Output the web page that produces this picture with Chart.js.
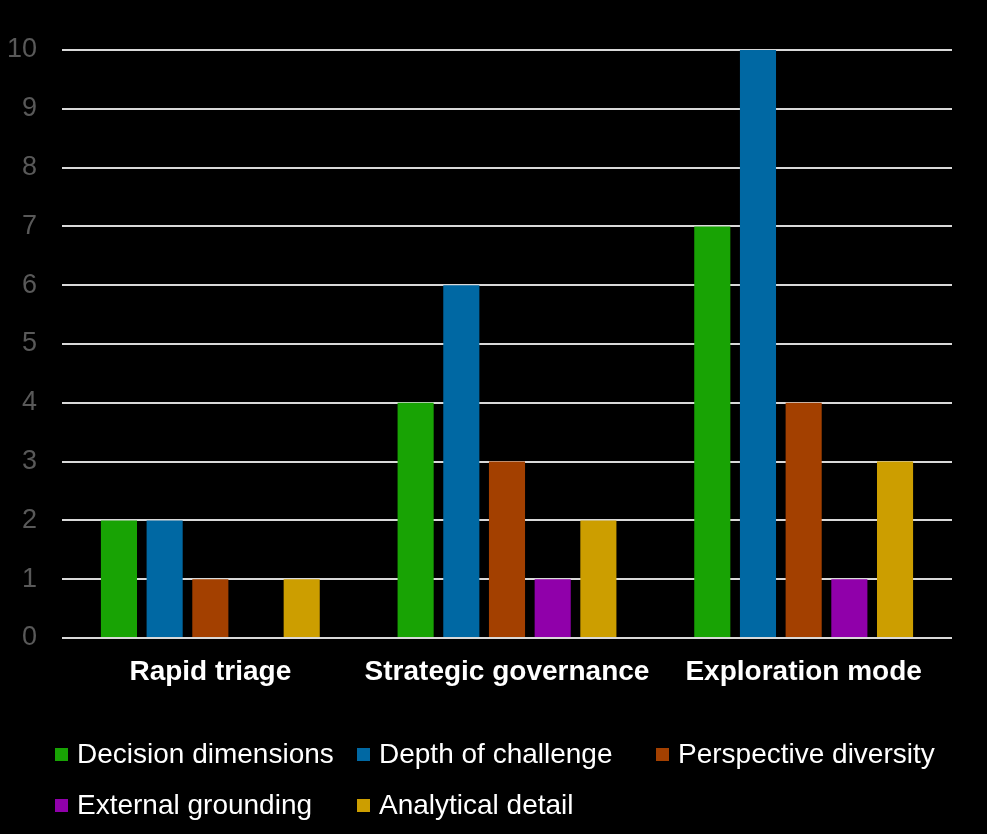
<!DOCTYPE html>
<html>
<head>
<meta charset="utf-8">
<script src="https://cdn.jsdelivr.net/npm/chart.js@4/dist/chart.umd.min.js"></script>
<style>
  html, body { margin: 0; padding: 0; background: #000; }
  #wrap { position: relative; width: 987px; height: 834px; background: #000; }
  #c { position: absolute; left: 0; top: 0; }
  .lg { position: absolute; font-family: "Liberation Sans", Arial, sans-serif; font-size: 28px; color: #fff; white-space: nowrap; line-height: 32px; }
  .lg i { position: absolute; left: 0; top: 10px; width: 13px; height: 13px; }
  .lg span { position: absolute; left: 22px; top: 0; }
</style>
</head>
<body>
<div id="wrap">
  <canvas id="c" width="987" height="834"></canvas>
  <div id="legend"></div>
</div>
<script>
const categories = ["Rapid triage", "Strategic governance", "Exploration mode"];
const seriesNames = ["Decision dimensions", "Depth of challenge", "Perspective diversity", "External grounding", "Analytical detail"];
const decisionDimensions = [2, 4, 7];
const depthOfChallenge = [2, 6, 10];
const perspectiveDiversity = [1, 3, 4];
const externalGrounding = [0, 1, 1];
const analyticalDetail = [1, 2, 3];
const yTicks = [0, 1, 2, 3, 4, 5, 6, 7, 8, 9, 10];
const colors = ["#18a304", "#0068a3", "#a34000", "#9000aa", "#cc9e00"];

const seriesValues = [decisionDimensions, depthOfChallenge, perspectiveDiversity, externalGrounding, analyticalDetail];

const chart = new Chart(document.getElementById('c'), {
  type: 'bar',
  data: {
    labels: categories,
    datasets: seriesNames.map((n, i) => ({
      label: n,
      data: seriesValues[i],
      backgroundColor: colors[i],
      borderWidth: 0,
      categoryPercentage: 0.77,
      barPercentage: 0.79
    }))
  },
  options: {
    responsive: false,
    animation: false,
    devicePixelRatio: 1,
    layout: { padding: { left: 0, right: 35, top: 50, bottom: 136 } },
    plugins: { legend: { display: false }, tooltip: { enabled: false } },
    scales: {
      x: {
        grid: { display: false, drawTicks: false },
        border: { display: false },
        ticks: { color: '#ffffff', padding: 17, font: { family: '"Liberation Sans", Arial, sans-serif', size: 28, weight: 'bold' } },
        afterFit: s => { s.height = 60; }
      },
      y: {
        min: 0, max: 10,
        afterBuildTicks: s => { s.ticks = yTicks.map(v => ({ value: v })); },
        grid: { color: '#d9d9d9', lineWidth: 2, drawTicks: false },
        border: { display: false },
        ticks: { color: '#595959', padding: 25, font: { family: '"Liberation Sans", Arial, sans-serif', size: 27 } },
        afterFit: s => { s.width = 62; }
      }
    }
  }
});

const legendPos = [[55, 738], [357, 738], [656, 738], [55, 789], [357, 789]];
const lg = document.getElementById('legend');
seriesNames.forEach((n, i) => {
  const d = document.createElement('div');
  d.className = 'lg';
  d.style.left = legendPos[i][0] + 'px';
  d.style.top = legendPos[i][1] + 'px';
  d.innerHTML = '<i style="background:' + colors[i] + '"></i><span>' + n + '</span>';
  lg.appendChild(d);
});
</script>
</body>
</html>
